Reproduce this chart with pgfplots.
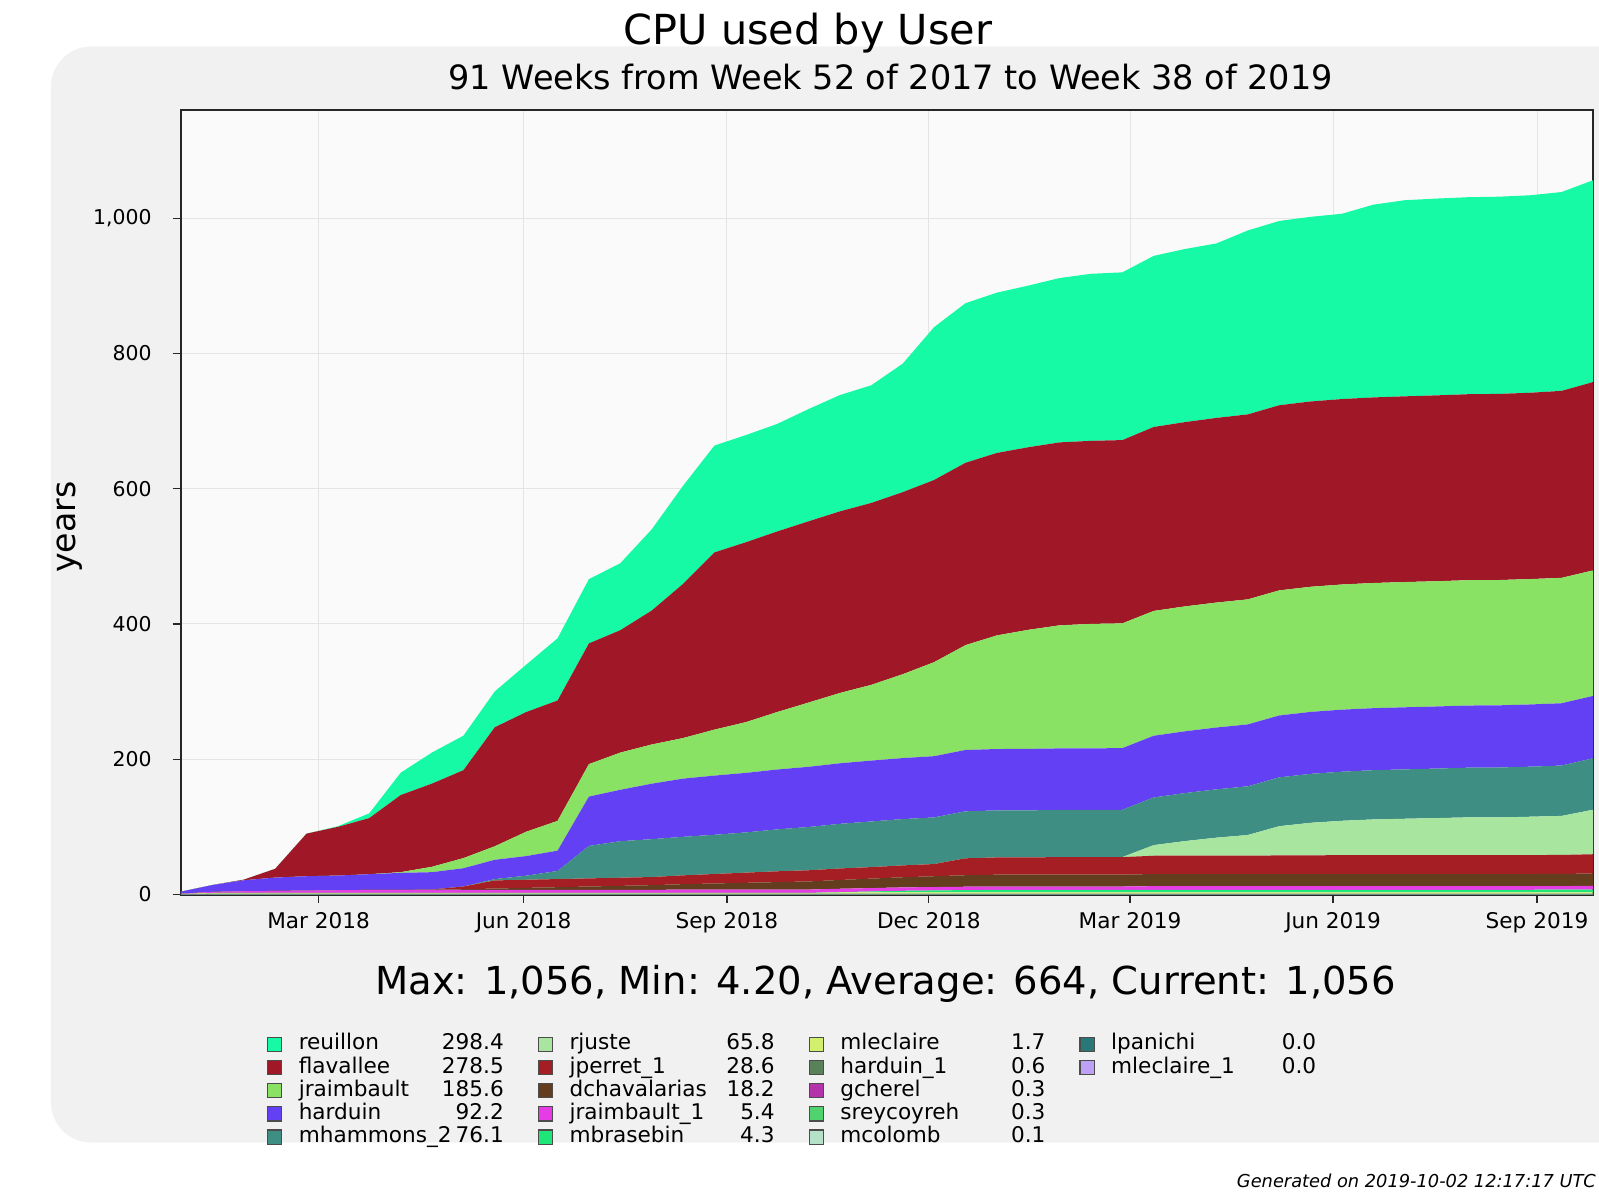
\documentclass[border=0pt]{standalone}
\usepackage{fontspec}
\setmainfont{DejaVu Sans}
\usepackage{pgfplots}
\usepackage{pgfplotstable}
\pgfplotsset{compat=1.18}

\definecolor{cre}{RGB}{22,250,165}
\definecolor{cfl}{RGB}{160,24,40}
\definecolor{cjr}{RGB}{138,226,100}
\definecolor{chd}{RGB}{100,64,245}
\definecolor{cmh}{RGB}{62,142,132}
\definecolor{crj}{RGB}{168,230,160}
\definecolor{cjp}{RGB}{165,30,35}
\definecolor{cdc}{RGB}{100,60,30}
\definecolor{cjo}{RGB}{230,60,230}
\definecolor{cmb}{RGB}{30,230,120}
\definecolor{cml}{RGB}{210,240,110}
\definecolor{cho}{RGB}{90,130,90}
\definecolor{cgc}{RGB}{180,50,170}
\definecolor{csr}{RGB}{80,210,110}
\definecolor{cmc}{RGB}{180,225,200}
\definecolor{clp}{RGB}{40,120,120}
\definecolor{cmo}{RGB}{190,160,245}
\definecolor{panelgray}{RGB}{241,241,241}
\definecolor{axisbg}{RGB}{250,250,250}
\definecolor{gridc}{RGB}{228,228,228}

\pgfplotstableread{
i  mo  lp  mc  sr  gc  ho  ml  mb  jo  dc  jp  rj  mh  hd  jr  fl  re
0  0   0   0   0.1 0.1 0.2 0.3 0   0.5 0   0   0   0   3.0  0   0   0
2  0   0   0.1 0.3 0.3 0.6 1.0 0   1.5 0   0   0   0   10.2 0   0   0
4  0   0   0.1 0.3 0.3 0.6 1.0 0   2.5 0   0   0   0   16.2 0   1   0
6  0   0   0.1 0.3 0.3 0.6 1.0 0   3.0 0   0   0   0   19.7 0   13  0
8  0   0   0.1 0.3 0.3 0.6 1.0 0   3.5 0   0   0   0   21.2 0   63  0
10 0   0   0.1 0.3 0.3 0.6 1.0 0   4.0 0   0   0   0   21.7 0   72  1
12 0   0   0.1 0.3 0.3 0.6 1.0 0   4.5 0   0   0   0   23.2 0   83  7
14 0   0   0.1 0.3 0.3 0.6 1.0 0   4.5 0   0   0   0   25.2 1   114 33
16 0   0   0.1 0.3 0.3 0.6 1.0 0   4.5 0.5 0   0   0   25.7 8   123 46
18 0   0   0.1 0.3 0.3 0.6 1.0 0   4.5 1   4   0   0   27   15  130 51
20 0   0   0.1 0.3 0.3 0.6 1.0 0   4.5 2   12  0   2   28.5 20  176 53
22 0   0   0.1 0.3 0.3 0.6 1.0 0   4.5 3   12  0   6   29   36  177 70
24 0   0   0.1 0.3 0.3 0.6 1.0 0   4.5 4   12  0   12  30   44  178 92
26 0   0   0.1 0.3 0.3 0.6 1.0 0   4.5 5   12  0   48  73   48  178.5 95
28 0   0   0.1 0.3 0.3 0.6 1.0 0   4.5 6   12  0   54  76   55  181 99
30 0   0   0.1 0.3 0.3 0.6 1.0 0   4.5 7   12  0   56  82   58  198 120
32 0   0   0.1 0.3 0.3 0.6 1.0 0   5.0 8   13  0   57  86   60  228 145
34 0   0   0.1 0.3 0.3 0.6 1.0 0   5.0 9   14  0   58  87.5 68  262 158
36 0   0   0.1 0.3 0.3 0.6 1.0 0   5.0 10  15  0   59.5 88 75  266 158.5
38 0   0   0.1 0.3 0.3 0.6 1.0 0   5.0 11  16  0   62  88.5 85  267 159
40 0   0   0.1 0.3 0.3 0.6 1.0 0   5.0 12  16.5 0  64  89   95  268 166
42 0   0   0.1 0.3 0.3 0.6 1.7 0.5 5.0 13  17  0   66  89.5 104 268.5 172
44 0   0   0.1 0.3 0.3 0.6 1.7 1.5 5.0 14  17  0   67.5 90 112 269 174
46 0   0   0.1 0.3 0.3 0.6 1.7 2.5 5.0 15  17.5 0  68.5 90.2 124 269.2 190
48 0   0   0.1 0.3 0.3 0.6 1.7 3.0 5.0 16  18  0   69  90.5 139 269.4 226
50 0   0   0.1 0.3 0.3 0.6 1.7 3.5 5.0 17  25  0   69.5 90.7 155 269.6 236
52 0   0   0.1 0.3 0.3 0.6 1.7 3.8 5.0 17.5 25.5 0 69.5 90.8 168 269.8 237
54 0   0   0.1 0.3 0.3 0.6 1.7 3.8 5.0 17.5 25.5 0 69.6 90.9 176 270 239
56 0   0   0.1 0.3 0.3 0.6 1.7 3.8 5.0 17.5 26 0   69.7 91 182 270.5 243
58 0   0   0.1 0.3 0.3 0.6 1.7 3.8 5.0 17.5 26 0   69.8 91 184 270.7 247
60 0   0   0.1 0.3 0.3 0.6 1.7 3.8 5.0 17.5 26 0   70  91.1 184.5 271 248
62 0   0   0.1 0.3 0.3 0.6 1.7 4.0 5.3 18  27  15.7 70.5 91.2 184.6 272 253
64 0   0   0.1 0.3 0.3 0.6 1.7 4.0 5.3 18  27  21.7 71 91.3 184.7 272.5 256
66 0   0   0.1 0.3 0.3 0.6 1.7 4.0 5.3 18  27  26.7 71.5 91.4 184.8 273 258
68 0   0   0.1 0.3 0.3 0.6 1.7 4.0 5.3 18  27  30.7 72 91.5 184.9 273.5 272
70 0   0   0.1 0.3 0.3 0.6 1.7 4.0 5.3 18  27.5 43.2 72.2 91.5 185 273.7 272.5
72 0   0   0.1 0.3 0.3 0.6 1.7 4.0 5.3 18  27.5 48.2 72.4 91.6 185 274 273
74 0   0   0.1 0.3 0.3 0.6 1.7 4.0 5.3 18  28  50.7 72.6 91.7 185.1 274.2 274
76 0   0   0.1 0.3 0.3 0.6 1.7 4.0 5.3 18  28  52.7 72.8 91.7 185.1 274.4 285
78 0   0   0.1 0.3 0.3 0.6 1.7 4.0 5.3 18  28  53.7 73 91.8 185.2 274.6 290
80 0   0   0.1 0.3 0.3 0.6 1.7 4.0 5.3 18  28  54.7 73.2 91.8 185.2 274.8 291
82 0   0   0.1 0.3 0.3 0.6 1.7 4.0 5.3 18  28  55.7 73.5 91.9 185.3 275 291.3
84 0   0   0.1 0.3 0.3 0.6 1.7 4.0 5.3 18  28  55.7 73.8 91.9 185.3 275.2 291.6
86 0   0   0.1 0.3 0.3 0.6 1.7 4.0 5.3 18  28  56.7 74 92 185.4 275.5 292
88 0   0   0.1 0.3 0.3 0.6 1.7 4.2 5.3 18  28  57.7 74.5 92.1 185.4 276.5 294
90 0   0   0.1 0.3 0.3 0.6 1.7 4.3 5.4 18.2 28.6 65.8 76.1 92.2 185.6 278.5 298.4
}\datatable

\newcommand{\lent}[2]{\makebox[71.5pt][l]{#1}\makebox[31pt][r]{#2}}
\pgfplotsset{
  sq/.style={legend image code/.code={\draw[fill=#1,draw=black!70,line width=0.6pt] (0pt,-3.55pt) rectangle (7.1pt,3.55pt);}},
}

\begin{document}
\begin{tikzpicture}
\useasboundingbox (-90.5pt,-148.75pt) rectangle (709pt,447.25pt);
\fill[panelgray, rounded corners=20pt] (-65pt,-124pt) rectangle (740pt,424pt);
\begin{axis}[
  at={(0pt,0pt)}, anchor=south west,
  width=706pt, height=392.25pt, scale only axis,
  xmin=0, xmax=90, ymin=0, ymax=1160,
  stack plots=y,
  axis background/.style={fill=axisbg},
  xtick={8.77,21.84,34.80,47.67,60.49,73.43,86.43},
  xticklabels={Mar 2018,Jun 2018,Sep 2018,Dec 2018,Mar 2019,Jun 2019,Sep 2019},
  ytick={0,200,400,600,800,1000},
  /pgf/number format/1000 sep={,},
  /pgf/number format/assume math mode=true,
  grid=major,
  major grid style={draw=gridc, line width=0.5pt},
  axis line style={draw=black!85, line width=1pt},
  tick align=outside,
  xtick pos=bottom, ytick pos=left,
  major tick length=4pt,
  tick style={draw=black!85, line width=0.6pt},
  tick label style={font=\fontsize{10.8}{13}\selectfont, inner sep=0pt},
  yticklabel style={anchor=east, xshift=-10.5pt, font=\fontsize{10.2}{13}\selectfont},
  xticklabel style={anchor=north, yshift=-5pt},
  legend columns=4,
  legend cell align=left,
  legend style={draw=none, fill=none, inner sep=0pt, outer sep=0pt,
    at={(axis description cs:0.0609,-0.1776)}, anchor=north west,
    font=\fontsize{10.8}{13}\selectfont,
    nodes={inner xsep=1pt, inner ysep=0pt, text height=8pt, text depth=2.5pt},
    row sep=1.1pt,
    /tikz/every odd column/.append style={column sep=7.2pt},
    /tikz/every even column/.append style={column sep=16pt}},
]
\addplot[fill=cmo, draw=none, forget plot] table[x=i,y=mo]{\datatable} \closedcycle;
\addplot[fill=clp, draw=none, forget plot] table[x=i,y=lp]{\datatable} \closedcycle;
\addplot[fill=cmc, draw=none, forget plot] table[x=i,y=mc]{\datatable} \closedcycle;
\addplot[fill=csr, draw=none, forget plot] table[x=i,y=sr]{\datatable} \closedcycle;
\addplot[fill=cgc, draw=none, forget plot] table[x=i,y=gc]{\datatable} \closedcycle;
\addplot[fill=cho, draw=none, forget plot] table[x=i,y=ho]{\datatable} \closedcycle;
\addplot[fill=cml, draw=none, forget plot] table[x=i,y=ml]{\datatable} \closedcycle;
\addplot[fill=cmb, draw=none, forget plot] table[x=i,y=mb]{\datatable} \closedcycle;
\addplot[fill=cjo, draw=none, forget plot] table[x=i,y=jo]{\datatable} \closedcycle;
\addplot[fill=cdc, draw=none, forget plot] table[x=i,y=dc]{\datatable} \closedcycle;
\addplot[fill=cjp, draw=none, forget plot] table[x=i,y=jp]{\datatable} \closedcycle;
\addplot[fill=crj, draw=none, forget plot] table[x=i,y=rj]{\datatable} \closedcycle;
\addplot[fill=cmh, draw=none, forget plot] table[x=i,y=mh]{\datatable} \closedcycle;
\addplot[fill=chd, draw=none, forget plot] table[x=i,y=hd]{\datatable} \closedcycle;
\addplot[fill=cjr, draw=none, forget plot] table[x=i,y=jr]{\datatable} \closedcycle;
\addplot[fill=cfl, draw=none, forget plot] table[x=i,y=fl]{\datatable} \closedcycle;
\addplot[fill=cre, draw=none, forget plot] table[x=i,y=re]{\datatable} \closedcycle;
% legend, row by row
\addlegendimage{sq=cre}\addlegendentry{\lent{reuillon}{298.4}}
\addlegendimage{sq=crj}\addlegendentry{\lent{rjuste}{65.8}}
\addlegendimage{sq=cml}\addlegendentry{\lent{mleclaire}{1.7}}
\addlegendimage{sq=clp}\addlegendentry{\lent{lpanichi}{0.0}}
\addlegendimage{sq=cfl}\addlegendentry{\lent{flavallee}{278.5}}
\addlegendimage{sq=cjp}\addlegendentry{\lent{jperret\_1}{28.6}}
\addlegendimage{sq=cho}\addlegendentry{\lent{harduin\_1}{0.6}}
\addlegendimage{sq=cmo}\addlegendentry{\lent{mleclaire\_1}{0.0}}
\addlegendimage{sq=cjr}\addlegendentry{\lent{jraimbault}{185.6}}
\addlegendimage{sq=cdc}\addlegendentry{\lent{dchavalarias}{18.2}}
\addlegendimage{sq=cgc}\addlegendentry{\lent{gcherel}{0.3}}
\addlegendimage{empty legend}\addlegendentry{}
\addlegendimage{sq=chd}\addlegendentry{\lent{harduin}{92.2}}
\addlegendimage{sq=cjo}\addlegendentry{\lent{jraimbault\_1}{5.4}}
\addlegendimage{sq=csr}\addlegendentry{\lent{sreycoyreh}{0.3}}
\addlegendimage{empty legend}\addlegendentry{}
\addlegendimage{sq=cmh}\addlegendentry{\lent{mhammons\_2}{76.1}}
\addlegendimage{sq=cmb}\addlegendentry{\lent{mbrasebin}{4.3}}
\addlegendimage{sq=cmc}\addlegendentry{\lent{mcolomb}{0.1}}
\end{axis}
\node[anchor=base, font=\fontsize{20.7}{24}\selectfont] at (313.5pt,424.8pt) {CPU used by User};
\node[anchor=base, font=\fontsize{16.75}{20}\selectfont] at (354.9pt,402.4pt) {91 Weeks from Week 52 of 2017 to Week 38 of 2019};
\node[anchor=base, font=\fontsize{19.25}{23}\selectfont] at (352.3pt,-49.9pt) {Max: 1,056, Min: 4.20, Average: 664, Current: 1,056};
\node[rotate=90, font=\fontsize{16.6}{20}\selectfont] at (-55.8pt,183.6pt) {years};
\node[anchor=base east, font=\fontsize{8.9}{11}\selectfont\itshape] at (711pt,-146.7pt) {Generated on 2019-10-02 12:17:17 UTC};
\end{tikzpicture}
\end{document}
